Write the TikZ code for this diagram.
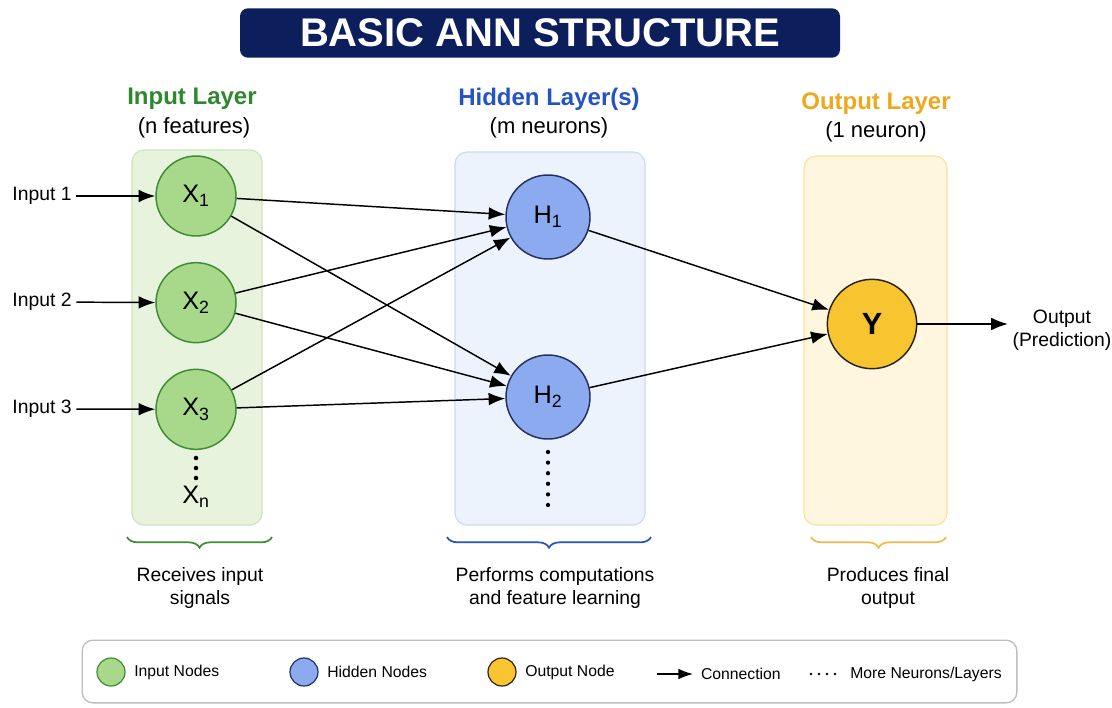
\documentclass[tikz,border=0pt]{standalone}
\usepackage{fontspec}
\setmainfont{Liberation Sans}
\usetikzlibrary{arrows.meta, positioning, decorations.pathreplacing}
\definecolor{navy}{RGB}{12,30,92}
\definecolor{ingreen}{RGB}{46,136,46}
\definecolor{hidblue}{RGB}{36,84,196}
\definecolor{outgold}{RGB}{238,168,30}
\definecolor{infill}{RGB}{168,216,138}
\definecolor{inedge}{RGB}{62,140,52}
\definecolor{hidfill}{RGB}{140,170,240}
\definecolor{hidedge}{RGB}{38,48,92}
\definecolor{outfill}{RGB}{248,196,48}
\definecolor{outedge}{RGB}{40,36,24}
\definecolor{inbg}{RGB}{231,243,220}
\definecolor{inbgedge}{RGB}{204,228,186}
\definecolor{hidbg}{RGB}{236,243,253}
\definecolor{hidbgedge}{RGB}{204,218,242}
\definecolor{outbg}{RGB}{254,246,222}
\definecolor{outbgedge}{RGB}{250,226,156}
\tikzstyle{every node}=[font=\fontsize{14.5}{17.3}\selectfont]
\tikzstyle{neuron}=[circle,draw,line width=1.1pt,inner sep=0pt,font=\fontsize{19}{21}\selectfont]
\tikzstyle{layerbox}=[rounded corners=9pt,line width=0.9pt]
\tikzstyle{conn}=[-{Latex[length=12.5pt,width=9.5pt]},line width=1.1pt]
\tikzstyle{lbrace}=[decorate,decoration={brace,mirror,amplitude=8pt},line width=1.3pt]
\tikzstyle{legend}=[font=\fontsize{11.8}{14}\selectfont]
\newcommand{\head}{\fontsize{18}{21}\selectfont\bfseries}
\newcommand{\subhead}{\fontsize{16.5}{19}\selectfont}

\begin{document}
\begin{tikzpicture}[x=0.75pt,y=-0.75pt,node distance=80pt,>=latex]
    \useasboundingbox (0,0) rectangle (1112,707);
    % title bar
    \node[fill=navy,rounded corners=6pt,minimum width=450pt,minimum height=37pt,
        text=white,font=\fontsize{30}{34}\selectfont\bfseries] (title) at (540,33) {BASIC ANN STRUCTURE};
    % layer backgrounds
    \draw[layerbox,fill=inbg,draw=inbgedge] (132,150) rectangle (262,525);
    \draw[layerbox,fill=hidbg,draw=hidbgedge] (455,152) rectangle (645,525);
    \draw[layerbox,fill=outbg,draw=outbgedge] (804,156) rectangle (947,525);
    % headers
    \node[text=ingreen,font=\head] (inhead) at (192,99) {Input Layer};
    \node[font=\subhead] (insub) at (194,128) {(n features)};
    \node[text=hidblue,font=\head] (hidhead) at (549,99) {Hidden Layer(s)};
    \node[font=\subhead] (hidsub) at (549,128) {(m neurons)};
    \node[text=outgold,font=\head] (outhead) at (876,104) {Output Layer};
    \node[font=\subhead] (outsub) at (876,132) {(1 neuron)};
    % input layer
    \node[neuron,fill=infill,draw=inedge,minimum size=60pt] (x1) at (196,196) {X\textsubscript{1}};
    \node[neuron,fill=infill,draw=inedge,minimum size=60pt,below of=x1] (x2) {X\textsubscript{2}};
    \node[neuron,fill=infill,draw=inedge,minimum size=60pt,below of=x2] (x3) {X\textsubscript{3}};
    \foreach \k in {0,1,2}
        \fill (196,458+\k*10) circle (1.7pt);
    \node[font=\fontsize{19}{21}\selectfont] (xn) at (196,497) {X\textsubscript{n}};
    \node (in1) at (42,196) {Input 1};
    \node (in2) at (42,302) {Input 2};
    \node (in3) at (42,409) {Input 3};
    % hidden layer
    \node[neuron,fill=hidfill,draw=hidedge,minimum size=63pt] (h1) at (548,217) {H\textsubscript{1}};
    \node[neuron,fill=hidfill,draw=hidedge,minimum size=63pt,below of=h1,node distance=135pt] (h2) {H\textsubscript{2}};
    \foreach \k in {0,...,5}
        \fill (548,452+\k*10.6) circle (1.6pt);
    % output layer
    \node[neuron,fill=outfill,draw=outedge,minimum size=67pt,font=\fontsize{23}{25}\selectfont\bfseries] (y) at (872,324) {Y};
    \node[align=center] (out) at (1062,330) {Output\\(Prediction)};
    % connections
    \draw[conn] (in1) -- (x1);
    \draw[conn] (in2) -- (x2);
    \draw[conn] (in3) -- (x3);
    \foreach \i in {1,2,3}
        \foreach \j in {1,2}
            \draw[conn] (x\i) -- (h\j);
    \draw[conn] (h1) -- (y);
    \draw[conn] (h2) -- (y);
    \draw[conn] (y) -- (y -| out.west);
    % braces and notes
    \draw[lbrace,draw=inedge] (127,537) -- (272,537);
    \draw[lbrace,draw=hidblue] (447,537) -- (651,537);
    \draw[lbrace,draw=outgold!80] (811,537) -- (946,537);
    \node[align=center] (indesc) at (200,588) {Receives input\\signals};
    \node[align=center] (hiddesc) at (555,588) {Performs computations\\and feature learning};
    \node[align=center] (outdesc) at (888,588) {Produces final\\output};
    % legend
    \node[draw=black!25,line width=1pt,rounded corners=8pt,fill=white,
        minimum width=701pt,minimum height=47pt] (legendbox) at (549.5,671.5) {};
    \node[circle,draw=inedge,fill=infill,line width=0.9pt,minimum size=21pt] (lin) at (111,672) {};
    \node[legend,right=3pt of lin] (linlab) {Input Nodes};
    \node[circle,draw=hidedge,fill=hidfill,line width=0.9pt,minimum size=21pt] (lhid) at (304,672) {};
    \node[legend,right=3pt of lhid] (lhidlab) {Hidden Nodes};
    \node[circle,draw=outedge,fill=outfill,line width=0.9pt,minimum size=21pt] (lout) at (502,672) {};
    \node[legend,right=3pt of lout] (loutlab) {Output Node};
    \coordinate (la) at (657,674);
    \coordinate (lb) at (693,674);
    \draw[-{Latex[length=11pt,width=8pt]},line width=1pt] (la) -- (lb);
    \node[legend,right=2.5pt of lb] (lconn) {Connection};
    \coordinate (ld1) at (811,674);
    \coordinate (ld2) at (835,674);
    \draw[line width=2pt,line cap=round,dash pattern=on 0pt off 6pt] (ld1) -- (ld2);
    \node[legend,right=8pt of ld2] (lmore) {More Neurons/Layers};
\end{tikzpicture}
\end{document}
